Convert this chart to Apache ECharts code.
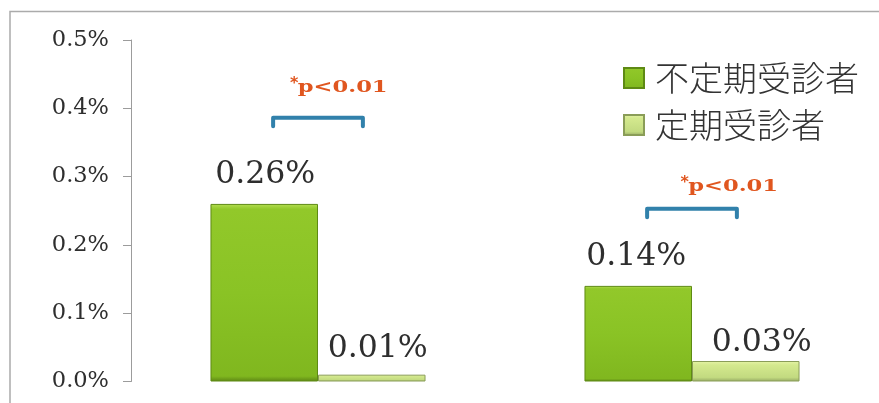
<!DOCTYPE html>
<html>
<head>
<meta charset="utf-8">
<title>受診状況別の割合</title>
<script src="https://cdn.jsdelivr.net/npm/echarts@6/dist/echarts.min.js"></script>
<style>
  html, body { margin: 0; padding: 0; background: #ffffff; }
  #chart { width: 879px; height: 403px; }
</style>
</head>
<body>
<div id="chart"></div>
<script>
// Groups along the x axis (names are not printed)
const categories = ['区分A', '区分B'];

// Rates in percent
const irregularValues = [0.26, 0.14];   // 不定期受診者
const regularValues = [0.01, 0.03];     // 定期受診者

// Value-axis ticks (percent)
const yTicks = [0.0, 0.1, 0.2, 0.3, 0.4, 0.5];

// Significance brackets: group index, bracket level, note level (percent)
const bracketGroups = [0, 1];
const bracketLevels = [0.386, 0.253];
const noteLevels = [0.431, 0.286];
const noteTexts = ['p<0.01', 'p<0.01'];

// Layout tweaks for the annotations (fraction of a category band)
const NOTE_SHIFT = [0.066, 0.11];
const BRACKET_HALF = 0.12;

// Small per-bar label nudges [dx, dy] in px
const irregularLabelNudge = [[1, 0], [-2, 0]];
const regularLabelNudge = [[6, 3], [16, 11]];

const chart = echarts.init(document.getElementById('chart'), null, { renderer: 'canvas' });

const pctLabel = (p) => p.value.toFixed(2) + '%';

const darkFill = new echarts.graphic.LinearGradient(0, 0, 0, 1, [
  { offset: 0, color: '#b4de52' },
  { offset: 0.03, color: '#92c82a' },
  { offset: 0.5, color: '#8ac325' },
  { offset: 0.97, color: '#80b71f' },
  { offset: 1, color: '#5d8514' }
]);
const lightFill = new echarts.graphic.LinearGradient(0, 0, 0, 1, [
  { offset: 0, color: '#e6f4a6' },
  { offset: 0.2, color: '#d4e98e' },
  { offset: 0.8, color: '#c2da80' },
  { offset: 1, color: '#95a963' }
]);

function withNudge(values, nudges) {
  return values.map((v, i) => ({
    value: v,
    label: { offset: nudges[i] }
  }));
}

const option = {
  backgroundColor: '#ffffff',
  animation: false,
  graphic: [{
    type: 'rect',
    silent: true,
    z: -10,
    shape: { x: 10, y: 11.5, width: 1000, height: 1000 },
    style: { fill: null, stroke: '#ababab', lineWidth: 1.5 }
  }],
  grid: { left: 131, right: 0, top: 40, bottom: 21.5 },
  legend: {
    orient: 'vertical',
    left: 618,
    top: 56,
    padding: 5,
    itemWidth: 20,
    itemHeight: 20,
    itemGap: 13,
    icon: 'rect',
    data: ['不定期受診者', '定期受診者'],
    textStyle: {
      fontFamily: '"Noto Sans CJK JP", sans-serif',
      fontWeight: 300,
      fontSize: 34,
      lineHeight: 34,
      color: '#333333',
      padding: [0, 0, 0, 6]
    }
  },
  xAxis: {
    type: 'category',
    data: categories,
    axisLine: { show: false },
    axisTick: { show: false },
    axisLabel: { show: false },
    splitLine: { show: false }
  },
  yAxis: {
    type: 'value',
    min: yTicks[0],
    max: yTicks[yTicks.length - 1],
    interval: 0.1,
    axisLine: { show: true, lineStyle: { color: '#9c9c9c', width: 1 } },
    axisTick: { show: true, length: 8, lineStyle: { color: '#9c9c9c', width: 1 } },
    splitLine: { show: false },
    axisLabel: {
      margin: 22,
      fontFamily: '"DejaVu Serif", serif',
      fontSize: 22.5,
      color: '#2e2e2e',
      formatter: (v) => v.toFixed(1) + '%'
    }
  },
  series: [
    {
      name: '不定期受診者',
      type: 'bar',
      data: withNudge(irregularValues, irregularLabelNudge),
      barGap: '0%',
      barCategoryGap: '42.5%',
      itemStyle: { color: darkFill, borderColor: '#5e8a14', borderWidth: 1 },
      label: {
        show: true,
        position: 'top',
        distance: 13,
        fontFamily: '"DejaVu Serif", serif',
        fontSize: 31.5,
        color: '#2e2e2e',
        formatter: pctLabel
      }
    },
    {
      name: '定期受診者',
      type: 'bar',
      data: withNudge(regularValues, regularLabelNudge),
      itemStyle: { color: lightFill, borderColor: '#8a9d58', borderWidth: 1 },
      label: {
        show: true,
        position: 'top',
        distance: 13,
        fontFamily: '"DejaVu Serif", serif',
        fontSize: 31.5,
        color: '#2e2e2e',
        formatter: pctLabel
      }
    },
    {
      name: 'significance',
      type: 'custom',
      silent: true,
      z: 5,
      data: bracketGroups.map((g, i) => [g, bracketLevels[i], noteLevels[i]]),
      encode: { x: 0, y: 1 },
      renderItem: (params, api) => {
        const i = params.dataIndex;
        const g = api.value(0);
        const b = api.coord([g, api.value(1)]);
        const t = api.coord([g, api.value(2)]);
        const band = api.size([1, 0])[0];
        const hw = band * BRACKET_HALF;
        const tx = t[0] + NOTE_SHIFT[i] * band;
        const textW = 91;
        return {
          type: 'group',
          children: [
            {
              type: 'polyline',
              shape: {
                points: [
                  [b[0] - hw, b[1] + 8.5],
                  [b[0] - hw, b[1]],
                  [b[0] + hw, b[1]],
                  [b[0] + hw, b[1] + 8.5]
                ]
              },
              style: { stroke: '#3181ab', lineWidth: 4, fill: null, lineJoin: 'round', lineCap: 'round' }
            },
            {
              type: 'text',
              x: tx,
              y: t[1],
              scaleX: 1.33,
              style: {
                text: noteTexts[i],
                fill: '#e0561f',
                font: 'bold 17px "DejaVu Serif", serif',
                align: 'center',
                verticalAlign: 'middle'
              }
            },
            {
              type: 'text',
              x: tx - textW / 2 - 3,
              y: t[1] - 3,
              style: {
                text: '*',
                fill: '#e0561f',
                font: 'bold 16px "DejaVu Sans", sans-serif',
                align: 'center',
                verticalAlign: 'middle'
              }
            }
          ]
        };
      }
    }
  ]
};

chart.setOption(option);
</script>
</body>
</html>
